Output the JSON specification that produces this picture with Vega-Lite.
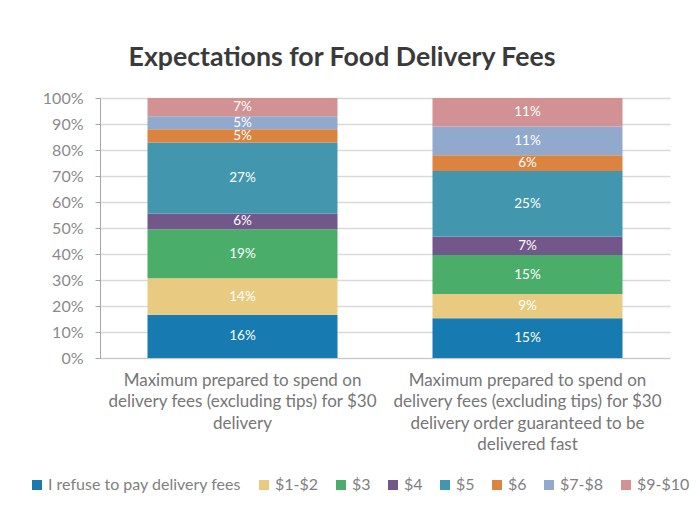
{
  "$schema": "https://vega.github.io/schema/vega-lite/v6.json",
  "autosize": "none",
  "width": 570,
  "height": 260,
  "padding": {"left": 100, "top": 98, "right": 30, "bottom": 167},
  "background": "white",
  "title": {
    "text": "Expectations for Food Delivery Fees",
    "font": "Lato",
    "fontSize": 26.7,
    "fontWeight": "bold",
    "color": "#3a3a3a",
    "anchor": "middle",
    "dx": -43,
    "dy": 34,
    "baseline": "alphabetic",
    "offset": 31
  },
  "config": {
    "view": {"stroke": null},
    "font": "Lato"
  },
  "data": {
    "values": [
      {"scenario": "A", "fee": "I refuse to pay delivery fees", "rank": 1, "share": 16.6, "label": "16%"},
      {"scenario": "A", "fee": "$1-$2", "rank": 2, "share": 14.1, "label": "14%"},
      {"scenario": "A", "fee": "$3", "rank": 3, "share": 18.8, "label": "19%"},
      {"scenario": "A", "fee": "$4", "rank": 4, "share": 6.1, "label": "6%"},
      {"scenario": "A", "fee": "$5", "rank": 5, "share": 27.3, "label": "27%"},
      {"scenario": "A", "fee": "$6", "rank": 6, "share": 5.1, "label": "5%"},
      {"scenario": "A", "fee": "$7-$8", "rank": 7, "share": 5.0, "label": "5%"},
      {"scenario": "A", "fee": "$9-$10", "rank": 8, "share": 7.0, "label": "7%"},
      {"scenario": "B", "fee": "I refuse to pay delivery fees", "rank": 1, "share": 15.3, "label": "15%"},
      {"scenario": "B", "fee": "$1-$2", "rank": 2, "share": 9.3, "label": "9%"},
      {"scenario": "B", "fee": "$3", "rank": 3, "share": 15.0, "label": "15%"},
      {"scenario": "B", "fee": "$4", "rank": 4, "share": 7.1, "label": "7%"},
      {"scenario": "B", "fee": "$5", "rank": 5, "share": 25.2, "label": "25%"},
      {"scenario": "B", "fee": "$6", "rank": 6, "share": 6.1, "label": "6%"},
      {"scenario": "B", "fee": "$7-$8", "rank": 7, "share": 11.0, "label": "11%"},
      {"scenario": "B", "fee": "$9-$10", "rank": 8, "share": 11.0, "label": "11%"}
    ]
  },
  "encoding": {
    "x": {
      "field": "scenario",
      "type": "nominal",
      "scale": {"paddingInner": 0.3333, "paddingOuter": 0.1667},
      "axis": {
        "title": null,
        "labelAngle": 0,
        "labelExpr": "datum.value == 'A' ? ['Maximum prepared to spend on', 'delivery fees (excluding tips) for $30', 'delivery'] : ['Maximum prepared to spend on', 'delivery fees (excluding tips) for $30', 'delivery order guaranteed to be', 'delivered fast']",
        "labelFont": "Lato",
        "labelFontSize": 17,
        "labelColor": "#767676",
        "labelLineHeight": 21.5,
        "labelPadding": 14,
        "labelBaseline": "top",
        "ticks": false,
        "domainColor": "#c8c8c8",
        "domainWidth": 1,
        "labelLimit": 400
      }
    },
    "y": {
      "field": "share",
      "type": "quantitative",
      "stack": "zero",
      "scale": {"domain": [0, 100]},
      "axis": {
        "title": null,
        "values": [0, 10, 20, 30, 40, 50, 60, 70, 80, 90, 100],
        "labelExpr": "datum.value + '%'",
        "labelFont": "Lato",
        "labelFontSize": 16,
        "labelColor": "#8a8a8a",
        "labelPadding": 12,
        "tickSize": 5,
        "tickColor": "#a6a6a6",
        "domainColor": "#a6a6a6",
        "gridColor": "#d9d9d9",
        "gridWidth": 1.3
      }
    },
    "order": {"field": "rank", "type": "quantitative"}
  },
  "layer": [
    {
      "mark": {"type": "bar"},
      "encoding": {
        "color": {
          "field": "fee",
          "type": "nominal",
          "scale": {
            "domain": ["I refuse to pay delivery fees", "$1-$2", "$3", "$4", "$5", "$6", "$7-$8", "$9-$10"],
            "range": ["#177bb1", "#e8cb81", "#4aad6a", "#72578b", "#4297af", "#dc843f", "#92a9ce", "#d29192"]
          },
          "legend": {
            "title": null,
            "orient": "none",
            "direction": "horizontal",
            "columns": 8,
            "legendX": -71,
            "legendY": 379,
            "symbolType": "square",
            "symbolSize": 100,
            "symbolStrokeWidth": 0,
            "labelFont": "Lato",
            "labelFontSize": 16,
            "labelColor": "#7f7f7f",
            "labelOffset": 3,
            "columnPadding": 14,
            "labelLimit": 400
          }
        }
      }
    },
    {
      "mark": {"type": "text", "color": "white", "font": "Lato", "fontSize": 13.5, "baseline": "middle"},
      "encoding": {
        "y": {"field": "share", "type": "quantitative", "stack": "zero", "bandPosition": 0.5},
        "text": {"field": "label", "type": "nominal"}
      }
    }
  ]
}
